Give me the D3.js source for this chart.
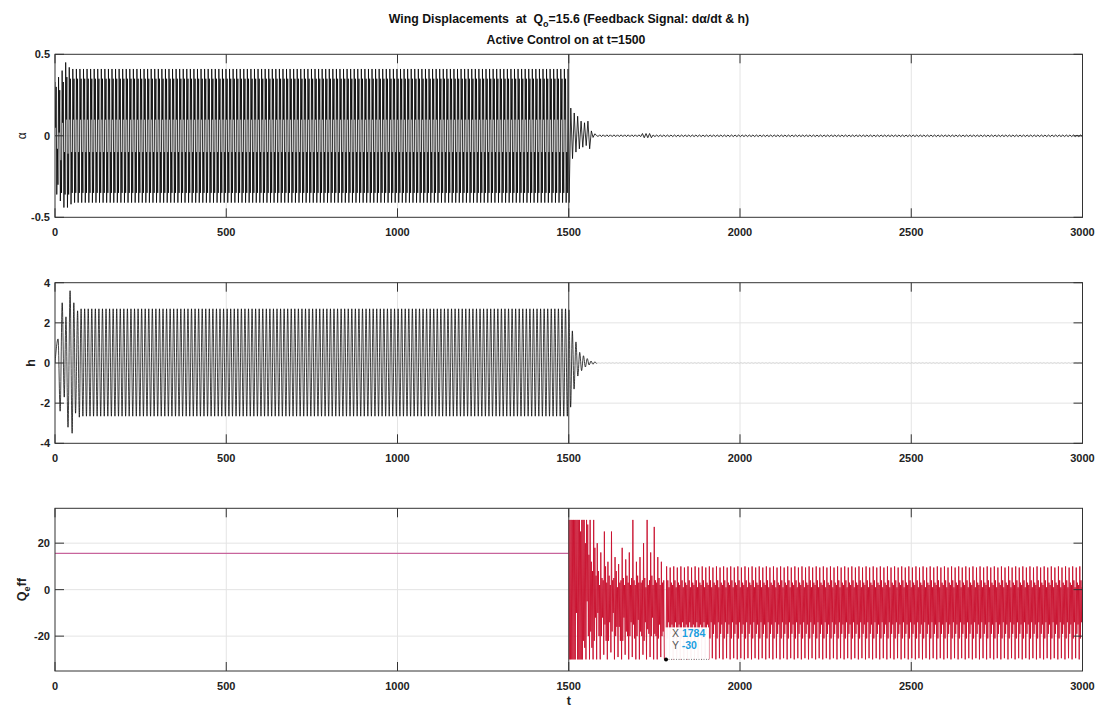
<!DOCTYPE html>
<html>
<head>
<meta charset="utf-8">
<script src="https://cdn.jsdelivr.net/npm/d3@7"></script>
<style>
  html, body { margin: 0; padding: 0; background: #fff; }
  svg text { white-space: pre; }
</style>
</head>
<body>
<script>
// ---------------------------------------------------------------------------
// Data (time in t units, one flutter cycle = PERIOD)
// ---------------------------------------------------------------------------
const PERIOD = 10.4;
const tDomain = [0, 3000];
const tTicks = [0, 500, 1000, 1500, 2000, 2500, 3000];
const controlOnT = 1500;

// alpha: turning points of the first limit-cycle cycles, then the settled cycle
const alphaStartCycles = [
  [0.33, 0.05, 0.30, -0.36, -0.08, -0.30],
  [0.36, 0.02, 0.28, -0.40, -0.15, -0.35],
  [0.40, 0.08, 0.33, -0.44, -0.10, -0.36],
  [0.45, 0.10, 0.36, -0.44, -0.11, -0.36],
  [0.42, 0.10, 0.35, -0.42, -0.10, -0.35]
];
const alphaLcoCycle = [0.41, 0.10, 0.35, -0.41, -0.10, -0.35];
const alphaLcoRepeats = 139;
// alpha after the controller is switched on: [t, alpha]
const alphaDecay = [
  [1498, 0.41], [1501, -0.41], [1506, 0.17], [1511, -0.14], [1516, 0.14],
  [1521, -0.10], [1526, 0.12], [1531, -0.08], [1536, 0.09], [1541, -0.07],
  [1546, 0.08], [1551, -0.06], [1556, 0.09], [1561, -0.08], [1566, 0.03],
  [1571, -0.01], [1576, 0.012]
];
// residual ripple: [start t, repeats, cycle values]
const alphaRipple = [
  [1580, 13, [0.006, -0.005]],
  [1715.2, 3, [0.014, -0.012]],
  [1746.4, 121, [0.005, -0.005]]
];

// h: start-up transient [t, h], settled cycle, decay after control on
const hStart = [
  [0, 0], [9, 1.2], [15, -2.4], [21, 3.0], [27, -1.7], [32, 2.3], [38, -3.2],
  [44, 3.6], [50, -3.5], [55, 3.0], [60, -2.5], [66, 2.6], [71, -2.7]
];
const hLcoCycle = [2.7, -2.65];
const hLcoStart = 76.2;
const hLcoRepeats = 137;
const hDecay = [
  [1500.5, 2.65], [1505.5, -2.2], [1510.5, 1.6], [1515.5, -1.3], [1521, 1.05],
  [1526.5, -0.65], [1532, 0.53], [1537.5, -0.38], [1543, 0.36], [1548.5, -0.2],
  [1554, 0.22], [1559.5, -0.1], [1565, 0.1], [1570.5, -0.06], [1576, 0.05],
  [1581.5, -0.03]
];
const hTail = [[1587, 137, [0.03, -0.03]]];

// Q_eff: constant before control, then one row of turning points per
// flutter cycle from t = 1500
const qBefore = [[0, 15.6], [1500, 15.6]];
const qTransientCycles = [
  [30, -30, 30, -30, 30, -30], [30, -30, 30, -30, 30, -30],
  [30, -10, 30, -30, 30, -30], [30, -30, 25, -30, 30, -30],
  [30, -22, 30, -25, 20, -30], [30, -5, 28, -20, 15, -30],
  [30, -18, 12, -25, 8, -30], [30, -22, 18, -12, 6, -30],
  [20, -10, 8, -20, 2, -30], [16, -20, 5, -12, 4, -28],
  [25, -15, 10, -22, 3, -30], [12, -22, 6, -14, 2, -27],
  [25, -18, 4, -10, 5, -30], [14, -20, 8, -16, 1, -29],
  [11, -16, 3, -22, 4, -30], [18, -22, 5, -12, 2, -28],
  [13, -18, 6, -20, 3, -30], [16, -20, 2, -14, 5, -29],
  [30, -15, 4, -21, 2, -30], [12, -20, 6, -13, 3, -30],
  [14, -18, 3, -20, 4, -28], [20, -22, 5, -14, 1, -30],
  [30, -17, 2, -19, 4, -29], [16, -20, 6, -12, 2, -30],
  [27, -19, 4, -20, 3, -30], [14, -21, 5, -15, 2, -29],
  [12, -20, 3, -18, 4, -30]
];
// settled control oscillation (two cycles per pattern), starting at a trough
const qSteadyStart = 1784;
const qSteadyPattern = [-30, 10, -21, 4, -14, 1, -29.5, 9.5, -19, 3, -15, 2];
const qSteadyRepeats = 59;

// data tip
const tipT = 1784;
const tipQ = -30;

// axis ticks
const alphaTicks = [-0.5, 0, 0.5];
const hTicks = [-4, -2, 0, 2, 4];
const qTicks = [-20, 0, 20];

// ---------------------------------------------------------------------------
// helpers to lay the turning points out in time
// ---------------------------------------------------------------------------
function periodic(t0, repeats, values, cycles) {
  const span = PERIOD * (cycles || 1);
  const step = span / values.length;
  const out = [];
  for (let r = 0; r < repeats; r++) {
    values.forEach((v, j) => out.push([t0 + r * span + j * step, v]));
  }
  return out;
}
function cycleRows(t0, rows) {
  const out = [];
  rows.forEach((row, r) => {
    const step = PERIOD / row.length;
    row.forEach((v, j) => out.push([t0 + r * PERIOD + j * step, v]));
  });
  return out;
}

const alphaSeries = [].concat(
  cycleRows(0, alphaStartCycles),
  periodic(alphaStartCycles.length * PERIOD, alphaLcoRepeats, alphaLcoCycle),
  alphaDecay,
  ...alphaRipple.map(r => periodic(r[0], r[1], r[2]))
);
const hSeries = [].concat(
  hStart,
  periodic(hLcoStart, hLcoRepeats, hLcoCycle),
  hDecay
);
const hTailSeries = [hDecay[hDecay.length - 1]].concat(
  ...hTail.map(r => periodic(r[0], r[1], r[2]))
);
const qSeries = [].concat(
  cycleRows(controlOnT, qTransientCycles),
  periodic(qSteadyStart, qSteadyRepeats, qSteadyPattern, 2)
);

// ---------------------------------------------------------------------------
// drawing
// ---------------------------------------------------------------------------
const W = 1099, H = 708;
const FONT = "'Liberation Sans', Arial, Helvetica, sans-serif";
const AX = "#333333";
const GRID = "#e4e4e4";

const svg = d3.select("body").append("svg")
  .attr("width", W).attr("height", H)
  .style("font-family", FONT);

const x = d3.scaleLinear().domain(tDomain).range([55, 1082.5]);

// title
const title = svg.append("text")
  .attr("x", 569).attr("y", 23)
  .attr("text-anchor", "middle")
  .attr("font-size", 12.3).attr("font-weight", "bold").attr("fill", "#111");
title.append("tspan").text("Wing Displacements  at  Q");
title.append("tspan").attr("dy", 4).attr("font-size", 9).text("o");
title.append("tspan").attr("dy", -4).text("=15.6 (Feedback Signal: d\u03b1/dt & h)");
svg.append("text")
  .attr("x", 566).attr("y", 44)
  .attr("text-anchor", "middle")
  .attr("font-size", 12.3).attr("font-weight", "bold").attr("fill", "#111")
  .text("Active Control on at t=1500");

const panels = [
  { id: "a", top: 54.3, bottom: 217.3, domain: [-0.5, 0.5], ticks: alphaTicks },
  { id: "h", top: 282.7, bottom: 443.3, domain: [-4, 4], ticks: hTicks },
  { id: "q", top: 508.3, bottom: 671, domain: [-35, 35], ticks: qTicks }
];

const defs = svg.append("defs");

panels.forEach(p => {
  const y = d3.scaleLinear().domain(p.domain).range([p.bottom, p.top]);
  p.y = y;
  const g = svg.append("g");
  p.g = g;
  const x0 = x.range()[0], x1 = x.range()[1];

  defs.append("clipPath").attr("id", "clip-" + p.id)
    .append("rect").attr("x", x0).attr("y", p.top)
    .attr("width", x1 - x0).attr("height", p.bottom - p.top);

  // grid
  g.append("g").selectAll("line").data(tTicks.slice(1, -1)).join("line")
    .attr("x1", d => x(d)).attr("x2", d => x(d))
    .attr("y1", p.top).attr("y2", p.bottom)
    .attr("stroke", GRID).attr("stroke-width", 1);
  g.append("g").selectAll("line").data(p.ticks.filter(v => v > p.domain[0] && v < p.domain[1])).join("line")
    .attr("x1", x0).attr("x2", x1)
    .attr("y1", d => y(d)).attr("y2", d => y(d))
    .attr("stroke", GRID).attr("stroke-width", 1);

  p.plot = g.append("g").attr("clip-path", "url(#clip-" + p.id + ")");

  // tick labels
  g.append("g").selectAll("text").data(tTicks).join("text")
    .attr("x", d => x(d)).attr("y", p.bottom + 15)
    .attr("text-anchor", "middle").attr("dominant-baseline", "central")
    .attr("font-size", 11).attr("font-weight", "bold").attr("fill", "#222")
    .text(d => String(d));
  g.append("g").selectAll("text").data(p.ticks).join("text")
    .attr("x", x0 - 5).attr("y", d => y(d))
    .attr("text-anchor", "end").attr("dominant-baseline", "central")
    .attr("font-size", 11).attr("font-weight", "bold").attr("fill", "#222")
    .text(d => String(d));
});

// alpha
const pa = panels[0];
pa.plot.append("path")
  .datum(alphaSeries)
  .attr("d", d3.line().x(d => x(d[0])).y(d => pa.y(d[1])))
  .attr("fill", "none").attr("stroke", "#000").attr("stroke-width", 0.8);

// h
const ph = panels[1];
ph.plot.append("path")
  .datum(hSeries)
  .attr("d", d3.line().x(d => x(d[0])).y(d => ph.y(d[1])).curve(d3.curveMonotoneX))
  .attr("fill", "none").attr("stroke", "#000").attr("stroke-width", 0.75);
ph.plot.append("path")
  .datum(hTailSeries)
  .attr("d", d3.line().x(d => x(d[0])).y(d => ph.y(d[1])))
  .attr("fill", "none").attr("stroke", "#000").attr("stroke-width", 0.4)
  .attr("stroke-opacity", 0.2);

// Q_eff
const pq = panels[2];
pq.plot.append("path")
  .datum(qBefore)
  .attr("d", d3.line().x(d => x(d[0])).y(d => pq.y(d[1])))
  .attr("fill", "none").attr("stroke", "#c8649c").attr("stroke-width", 1.1);
pq.plot.append("path")
  .datum(qSeries)
  .attr("d", d3.line().x(d => x(d[0])).y(d => pq.y(d[1])))
  .attr("fill", "none").attr("stroke", "#c8102e").attr("stroke-width", 0.9);

// frames, ticks and the control-on marker
panels.forEach(p => {
  const g = p.g, y = p.y;
  const x0 = x.range()[0], x1 = x.range()[1];
  const TL = 9;
  g.append("line")
    .attr("x1", x(controlOnT)).attr("x2", x(controlOnT))
    .attr("y1", p.top).attr("y2", p.bottom)
    .attr("stroke", "#444").attr("stroke-width", 1);
  g.append("rect")
    .attr("x", x0).attr("y", p.top)
    .attr("width", x1 - x0).attr("height", p.bottom - p.top)
    .attr("fill", "none").attr("stroke", AX).attr("stroke-width", 1);
  const ticks = g.append("g").attr("stroke", AX).attr("stroke-width", 1);
  tTicks.forEach(t => {
    ticks.append("line").attr("x1", x(t)).attr("x2", x(t)).attr("y1", p.bottom).attr("y2", p.bottom - TL);
    ticks.append("line").attr("x1", x(t)).attr("x2", x(t)).attr("y1", p.top).attr("y2", p.top + TL);
  });
  p.ticks.forEach(v => {
    ticks.append("line").attr("x1", x0).attr("x2", x0 + TL).attr("y1", y(v)).attr("y2", y(v));
    ticks.append("line").attr("x1", x1).attr("x2", x1 - TL).attr("y1", y(v)).attr("y2", y(v));
  });
});

// axis titles
svg.append("text")
  .attr("transform", "translate(26," + pa.y(0) + ") rotate(-90)")
  .attr("text-anchor", "middle")
  .attr("font-size", 12).attr("fill", "#222")
  .text("\u03b1");
svg.append("text")
  .attr("transform", "translate(35," + ph.y(0) + ") rotate(-90)")
  .attr("text-anchor", "middle")
  .attr("font-size", 12.5).attr("font-weight", "bold").attr("fill", "#222")
  .text("h");
const ql = svg.append("text")
  .attr("transform", "translate(26," + pq.y(0) + ") rotate(-90)")
  .attr("text-anchor", "middle")
  .attr("font-size", 12.5).attr("font-weight", "bold").attr("fill", "#222");
ql.append("tspan").text("Q");
ql.append("tspan").attr("dy", 4).attr("font-size", 9).text("e");
ql.append("tspan").attr("dy", -4).text("ff");
svg.append("text")
  .attr("x", x(1500)).attr("y", 705)
  .attr("text-anchor", "middle")
  .attr("font-size", 12.5).attr("font-weight", "bold").attr("fill", "#222")
  .text("t");

// data tip on the Q_eff trace
const tx = x(tipT), ty = pq.y(tipQ);
const tip = svg.append("g");
tip.append("rect")
  .attr("x", tx - 1).attr("y", ty - 32)
  .attr("width", 44).attr("height", 32)
  .attr("fill", "#fff").attr("fill-opacity", 0.95);
tip.append("line")
  .attr("x1", tx).attr("x2", tx + 43).attr("y1", ty).attr("y2", ty)
  .attr("stroke", "#555").attr("stroke-width", 0.8).attr("stroke-dasharray", "1,1.5");
const tl1 = tip.append("text").attr("x", tx + 6).attr("y", ty - 22.5).attr("font-size", 10.5);
tl1.append("tspan").attr("fill", "#555").text("X ");
tl1.append("tspan").attr("fill", "#1a9ee0").attr("font-weight", "bold").text(String(tipT));
const tl2 = tip.append("text").attr("x", tx + 6).attr("y", ty - 10.5).attr("font-size", 10.5);
tl2.append("tspan").attr("fill", "#555").text("Y ");
tl2.append("tspan").attr("fill", "#1a9ee0").attr("font-weight", "bold").text(String(tipQ));
tip.append("circle").attr("cx", tx).attr("cy", ty).attr("r", 2).attr("fill", "#000");
</script>
</body>
</html>
